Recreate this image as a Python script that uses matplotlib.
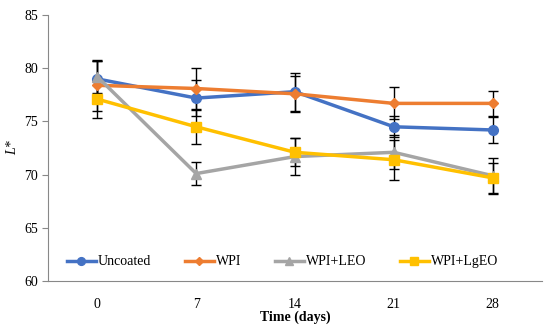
import matplotlib.pyplot as plt

days = ["0", "7", "14", "21", "28"]

uncoated = [79.0, 77.2, 77.8, 74.5, 74.2]
wpi = [78.4, 78.1, 77.6, 76.7, 76.7]
wpi_leo = [79.2, 70.1, 71.7, 72.1, 69.9]
wpi_lgeo = [77.1, 74.5, 72.1, 71.4, 69.7]

uncoated_sd = [1.7, 1.7, 1.8, 1.0, 1.2]
wpi_sd = [2.4, 1.9, 1.7, 1.5, 1.2]
wpi_leo_sd = [1.5, 1.1, 1.7, 1.6, 1.7]
wpi_lgeo_sd = [1.8, 1.6, 1.3, 1.9, 1.4]

plt.rcParams['font.family'] = ['Liberation Serif', 'DejaVu Serif']

fig = plt.figure(figsize=(5.5, 3.29), dpi=100)
ax = fig.add_axes([0.0873, 0.146, 0.898, 0.808])

x = range(len(days))
series = [
    ("Uncoated", uncoated, uncoated_sd, "#4472C4", "o", 7),
    ("WPI", wpi, wpi_sd, "#ED7D31", "D", 5),
    ("WPI+LEO", wpi_leo, wpi_leo_sd, "#A5A5A5", "^", 7),
    ("WPI+LgEO", wpi_lgeo, wpi_lgeo_sd, "#FFC000", "s", 7),
]
for name, vals, sd, color, marker, ms in series:
    ax.errorbar(x, vals, yerr=sd, color=color, marker=marker, markersize=ms,
                linewidth=2.5, ecolor='black', elinewidth=1, capsize=3.5,
                capthick=1, label=name, zorder=3)

ax.set_ylim(60, 85)
ax.set_yticks([60, 65, 70, 75, 80, 85])
ax.set_xlim(-0.5, 4.5)
ax.set_xticks(list(x))
ax.set_xticklabels(days)
ax.tick_params(axis='x', length=0, pad=12, labelsize=10)
ax.tick_params(axis='y', length=4, color='#888888', labelsize=10, pad=3)
for s in ['top', 'right']:
    ax.spines[s].set_visible(False)
for s in ['left', 'bottom']:
    ax.spines[s].set_color('#888888')

ax.set_xlabel("Time (days)", fontweight='bold', fontsize=10, labelpad=0)
ax.set_ylabel("L*", fontstyle='italic', fontsize=10, labelpad=4)

handles, labels = ax.get_legend_handles_labels()
handles = [h[0] for h in handles]
ax.legend(handles, labels, loc='lower center', bbox_to_anchor=(0.475, 0.0),
          ncol=4, frameon=False, fontsize=10, handlelength=2.1,
          columnspacing=2.4, handletextpad=0.15, markerscale=0.8)

plt.savefig("out.png", dpi=100)
